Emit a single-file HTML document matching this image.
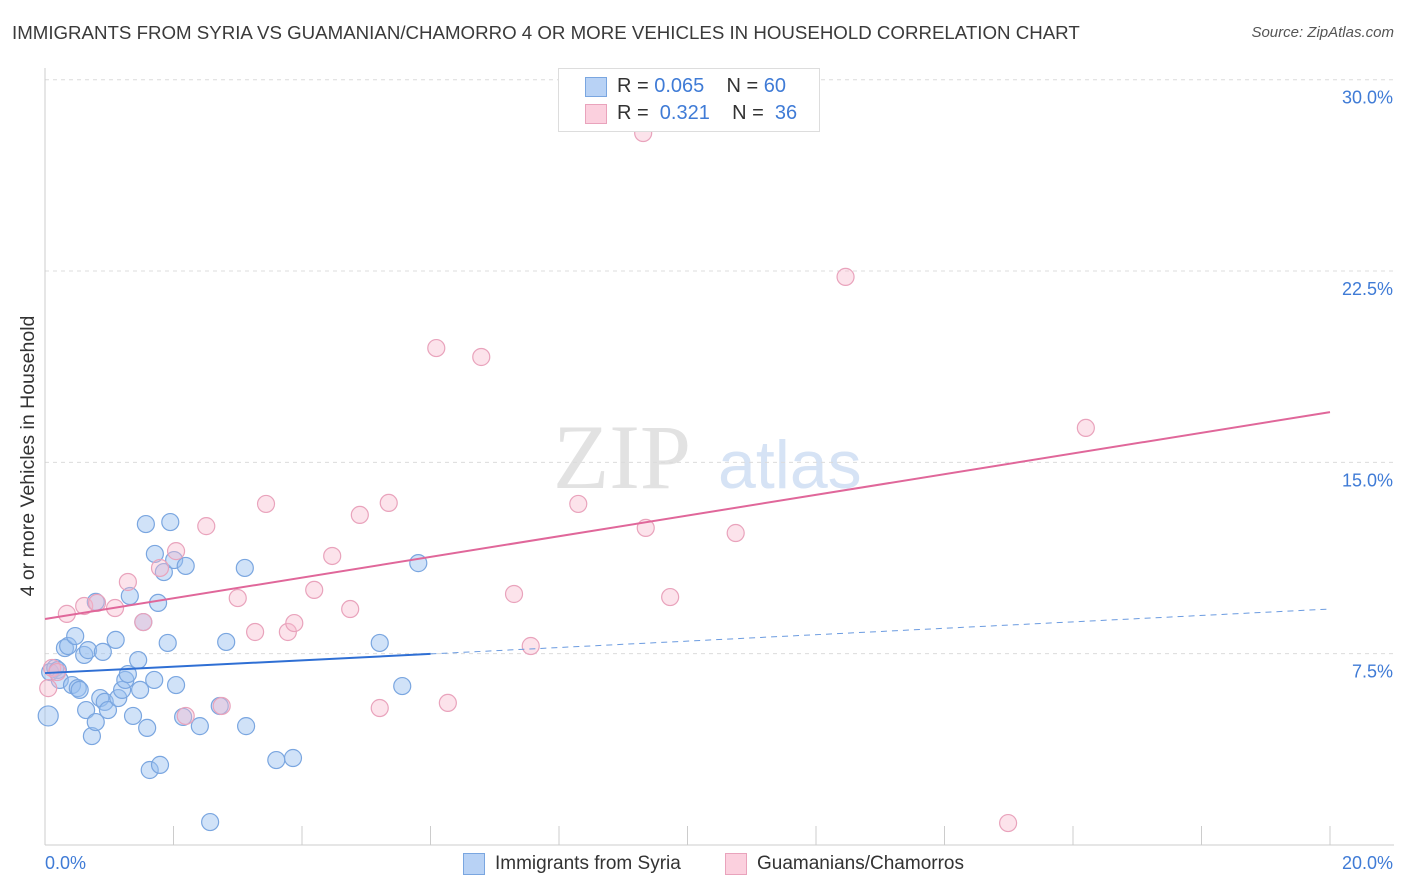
<!DOCTYPE html>
<html><head><meta charset="utf-8"><style>
body{margin:0;background:#fff;font-family:"Liberation Sans",sans-serif;}
#wrap{position:relative;width:1406px;height:892px;overflow:hidden;}
.t{position:absolute;white-space:nowrap;}
</style></head><body>
<div id="wrap">
<div class="t" style="left:12px;top:22px;font-size:18.7px;color:#3a3a3a;">IMMIGRANTS FROM SYRIA VS GUAMANIAN/CHAMORRO 4 OR MORE VEHICLES IN HOUSEHOLD CORRELATION CHART</div>
<div class="t" style="right:12px;top:24px;font-size:15px;color:#555;font-style:italic;">Source: ZipAtlas.com</div>
<svg id="svg" width="1406" height="892" style="position:absolute;left:0;top:0"></svg>
</div>
<script>
const yTicks=[7.5,15,22.5,30];
const yTickLabels=["7.5%","15.0%","22.5%","30.0%"];
const xEndLabels=["0.0%","20.0%"];
const syriaX=[0.05,0.08,0.16,0.2,0.23,0.31,0.36,0.42,0.47,0.51,0.54,0.61,0.64,0.67,0.73,0.79,0.79,0.86,0.9,0.93,0.98,1.1,1.14,1.2,1.25,1.29,1.32,1.37,1.45,1.48,1.53,1.57,1.59,1.63,1.7,1.71,1.76,1.79,1.85,1.91,1.95,2.01,2.04,2.15,2.19,2.41,2.57,2.72,2.82,3.11,3.13,3.6,3.86,5.21,5.56,5.81];
const syriaY=[5.06,6.78,6.94,6.86,6.47,7.72,7.8,6.27,8.19,6.15,6.08,7.45,5.29,7.64,4.27,4.82,9.53,5.76,7.57,5.61,5.29,8.04,5.76,6.08,6.47,6.7,9.76,5.06,7.25,6.08,8.74,12.58,4.59,2.94,6.47,11.41,9.49,3.14,10.7,7.92,12.66,11.17,6.27,5.02,10.94,4.66,0.9,5.45,7.96,10.86,4.66,3.33,3.41,7.92,6.23,11.05];
const guamX=[0.05,0.11,0.19,0.34,0.61,0.81,1.09,1.29,1.53,1.79,2.04,2.19,2.51,2.75,3.0,3.27,3.44,3.78,3.88,4.19,4.47,4.75,4.9,5.21,5.35,6.09,6.27,6.79,7.3,7.56,8.3,9.31,9.35,9.73,10.75,12.46,14.99,16.2];
const guamY=[6.15,6.94,6.78,9.06,9.37,9.49,9.29,10.31,8.74,10.86,11.52,5.06,12.5,5.45,9.68,8.35,13.37,8.35,8.7,10.0,11.33,9.25,12.94,5.37,13.41,19.48,5.57,19.13,9.84,7.8,13.37,27.91,12.43,9.72,12.23,22.27,0.86,16.35];
const syriaTrend=[6.74,7.49,9.25]; // at x=0, 6, 20
const guamTrend=[8.86,16.97]; // at x=0, 20
const X=v=>45+v/20*1285, Y=v=>845-v/30*765.3;
const svg=document.getElementById('svg');const NS='http://www.w3.org/2000/svg';
function mk(t,a,p){const e=document.createElementNS(NS,t);for(const k in a)e.setAttribute(k,a[k]);(p||svg).appendChild(e);return e;}
let w=mk('text',{x:553,y:488,'font-size':92,'font-family':'Liberation Serif,serif',fill:'#e2e2e2'});w.textContent='ZIP';


let w2=mk('text',{x:718,y:488,'font-size':68,'font-family':'Liberation Sans,sans-serif',fill:'#d6e3f5'});w2.textContent='atlas';


yTicks.forEach((v,i)=>{
 const g=mk('line',{x1:45,x2:1394,y1:Y(v),y2:Y(v),stroke:'#dcdcdc','stroke-dasharray':'4,4'});
 
 
 const t=mk('text',{x:1393,y:Y(v)+24,'text-anchor':'end','font-size':18,fill:'#3f7bd6','font-family':'Liberation Sans,sans-serif'});t.textContent=yTickLabels[i];
 
 
});
mk('line',{x1:45,x2:45,y1:68,y2:845,stroke:'#ccc'});
mk('line',{x1:45,x2:1394,y1:845,y2:845,stroke:'#ccc'});
for(let i=1;i<=10;i++){const tk=mk('line',{x1:X(i*2),x2:X(i*2),y1:826,y2:845,stroke:'#ccc'});
 
 }
xEndLabels.forEach((s,i)=>{const t=mk('text',{x:i?1393:45,y:869,'text-anchor':i?'end':'start','font-size':18,fill:'#3f7bd6','font-family':'Liberation Sans,sans-serif'});t.textContent=s;
 
 });
const yl=mk('text',{transform:'translate(34,456) rotate(-90)','text-anchor':'middle','font-size':19.5,fill:'#333','font-family':'Liberation Sans,sans-serif'});yl.textContent='4 or more Vehicles in Household';


syriaX.forEach((x,i)=>{const c=mk('circle',{cx:X(x),cy:Y(syriaY[i]),r:i==0?10:8.5,fill:'rgba(150,190,240,0.45)',stroke:'#7aa6e0','stroke-width':1.2});
 
 });
guamX.forEach((x,i)=>{const c=mk('circle',{cx:X(x),cy:Y(guamY[i]),r:8.5,fill:'rgba(248,185,205,0.4)',stroke:'#e9a3bc','stroke-width':1.2});
 
 });
const l1=mk('line',{x1:X(0),y1:Y(syriaTrend[0]),x2:X(6),y2:Y(syriaTrend[1]),stroke:'#2f6fd4','stroke-width':2});


const l2=mk('line',{x1:X(6),y1:Y(syriaTrend[1]),x2:X(20),y2:Y(syriaTrend[2]),stroke:'#6b9be0','stroke-width':1,'stroke-dasharray':'6,5'});


const l3=mk('line',{x1:X(0),y1:Y(guamTrend[0]),x2:X(20),y2:Y(guamTrend[1]),stroke:'#e0679a','stroke-width':2});


</script>
<div style="position:absolute;left:558px;top:68px;width:260px;height:62px;border:1px solid #ddd;background:#fff;font-size:20px;color:#333;">
 <div style="position:absolute;left:26px;top:8px;width:20px;height:18px;background:#b8d2f5;border:1px solid #7aa6e0;"></div>
 <div class="t" style="left:58px;top:6px;">R = <span style="color:#3f7bd6">0.065</span>&nbsp;&nbsp;&nbsp; N = <span style="color:#3f7bd6">60</span></div>
 <div style="position:absolute;left:26px;top:35px;width:20px;height:18px;background:#fbd0de;border:1px solid #e9a3bc;"></div>
 <div class="t" style="left:58px;top:33px;">R = <span style="color:#3f7bd6">&nbsp;0.321</span>&nbsp;&nbsp;&nbsp; N = <span style="color:#3f7bd6">&nbsp;36</span></div>
</div>
<div style="position:absolute;left:463px;top:853px;width:20px;height:20px;background:#b8d2f5;border:1px solid #7aa6e0;"></div>
<div class="t" style="left:495px;top:853px;font-size:19px;color:#333;">Immigrants from Syria</div>
<div style="position:absolute;left:725px;top:853px;width:20px;height:20px;background:#fbd0de;border:1px solid #e9a3bc;"></div>
<div class="t" style="left:757px;top:853px;font-size:19px;color:#333;">Guamanians/Chamorros</div>
</body></html>
